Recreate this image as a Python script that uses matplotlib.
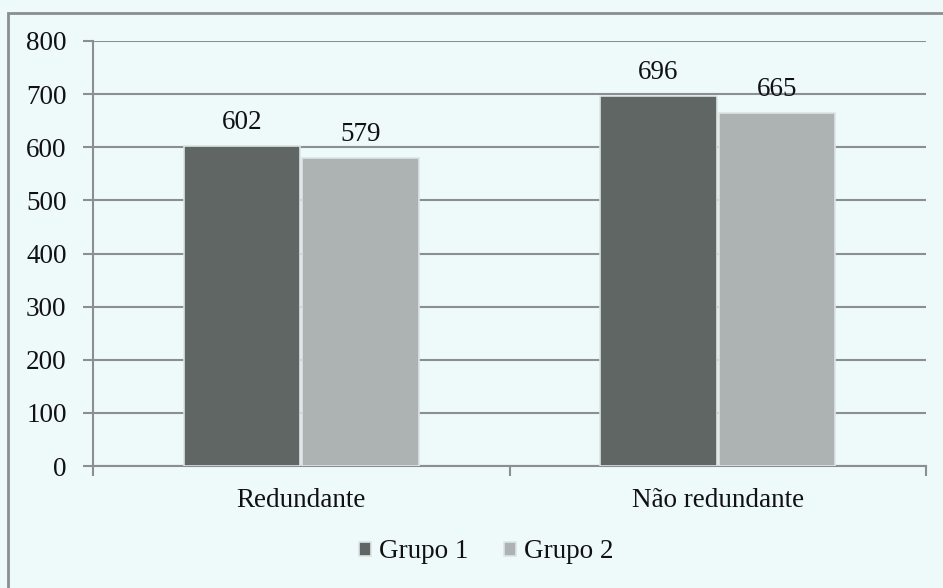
import matplotlib
matplotlib.use("Agg")
import matplotlib.pyplot as plt
import numpy as np
from matplotlib.patches import Rectangle

categories = ["Redundante", "Não redundante"]
series_names = ["Grupo 1", "Grupo 2"]
grupo1 = [602, 696]
grupo2 = [579, 665]
yticks = [0, 100, 200, 300, 400, 500, 600, 700, 800]

plt.rcParams['font.family'] = ['Liberation Serif', 'DejaVu Serif']
FS = 19.5
bg = '#eef9fa'
fig = plt.figure(figsize=(9.43, 5.88), dpi=100, facecolor=bg)
ax = fig.add_axes([93/943, 1-466/588, (926-93)/943, (466-41)/588])
ax.set_facecolor(bg)

# outer border
fig.patches.append(Rectangle((8/943, -0.05), 1.2, 1 - 13/588 + 0.05, transform=fig.transFigure,
                             fill=False, edgecolor='#8a8f8f', linewidth=2))

x = np.arange(len(categories))
w = 0.28
off = 0.142
b1 = ax.bar(x - off, grupo1, w, color='#5f6664', edgecolor='#dde4e4', linewidth=1.2, label=series_names[0], zorder=3)
b2 = ax.bar(x + off, grupo2, w, color='#adb3b2', edgecolor='#dde4e4', linewidth=1.2, label=series_names[1], zorder=3)

for bars, vals in ((b1, grupo1), (b2, grupo2)):
    for rect, v in zip(bars, vals):
        ax.annotate(str(v), (rect.get_x() + rect.get_width()/2, v), xytext=(0, 17),
                    textcoords='offset points', ha='center', va='center', fontsize=FS, color='#111111', zorder=5)

ax.set_xlim(-0.5, 1.5)
ax.set_ylim(0, 800)
ax.set_yticks(yticks)
ax.set_yticklabels([str(t) for t in yticks], fontsize=FS, color='#111111')
ax.yaxis.grid(True, color='#8c8f8f', linewidth=1.5, zorder=0)
ax.set_axisbelow(True)

ax.set_xticks([-0.5, 0.5, 1.5])
ax.set_xticklabels([])
ax.set_xticks(x, minor=True)
ax.set_xticklabels(categories, minor=True, fontsize=FS, color='#111111')
ax.tick_params(axis='x', which='minor', length=0, pad=16)
ax.tick_params(axis='x', which='major', length=7, width=1.5, color='#8c8f8f')
ax.tick_params(axis='y', length=7, width=1.5, color='#8c8f8f', pad=12)

for s in ['top', 'right']:
    ax.spines[s].set_visible(False)
for s in ['left', 'bottom']:
    ax.spines[s].set_color('#8c8f8f')
    ax.spines[s].set_linewidth(1.5)

leg = fig.legend(handles=[b1, b2], labels=series_names, loc='center', bbox_to_anchor=(486/943, 1-552/588),
                 ncol=2, frameon=False, fontsize=FS, handlelength=0.45, handleheight=0.45,
                 handletextpad=0.3, columnspacing=1.3)
for t in leg.get_texts():
    t.set_color('#111111')

fig.savefig('out.png', dpi=100, facecolor=bg)
